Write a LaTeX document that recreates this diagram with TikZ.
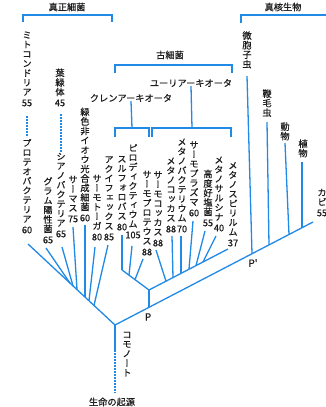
\documentclass[tikz,border=0pt]{standalone}
\usepackage{fontspec}
\newfontfamily\jp[FakeBold=0.6]{Noto Sans CJK JP}
\newfontfamily\jpv[RawFeature=+vert,FakeBold=0.6]{Noto Sans CJK JP}
\definecolor{treeblue}{RGB}{33,137,230}
\definecolor{txt}{RGB}{28,28,28}
\makeatletter
\newcommand\tate[1]{\vbox{\offinterlineskip\@tfor\tate@c:=#1\do{\hbox to 9.5pt{\hss\vrule width0pt height 7.9pt depth 1.6pt\tate@c\hss}}}}
\makeatother
\tikzset{
 bl/.style={draw=treeblue, line width=1.3pt},
 dsh/.style={draw=treeblue, line width=1.2pt, dash pattern=on 1.6pt off 1.4pt},
 num/.style={font=\jp\fontsize{9.2}{10}\selectfont, text=txt, inner sep=0pt},
 vt/.style={font=\jpv\fontsize{9.2}{9.5}\selectfont, text=txt, inner sep=0pt},
 hl/.style={font=\jp\fontsize{9.2}{10}\selectfont, text=txt, inner sep=0pt},
}
\newcommand\leaf[5]{\node[num] (n#1) at (#2,#3) {#5}; \node[vt,anchor=south] (t#1) at ([yshift=2.2pt]n#1.north) {\tate{#4}};}
\begin{document}
\begin{tikzpicture}[x=1pt,y=-1pt]
\useasboundingbox[fill=white] (0,0) rectangle (325,407);
% ---- group labels and brackets
\node[hl] (gbac) at (67,7) {真正細菌};
\node[hl] (geuk) at (283,7) {真核生物};
\node[hl] (garc) at (170,55) {古細菌};
\node[hl] (gcren) at (131,98) {クレンアーキオータ};
\node[hl] (geury) at (191,83) {ユーリアーキオータ};
\draw[bl] (23,22) -- (23,15) -- (112,15) -- (112,22);
\draw[bl] (241,23) -- (241,15) -- (326,15);
\draw[bl] (115,73) -- (115,65) -- (232,65) -- (232,73);
\draw[bl] (115,137) -- (115,128) -- (149,128) -- (149,137);
\draw[bl] (152,137) -- (152,128) -- (231,128) -- (231,137);
\coordinate (crb) at (132,128);
\coordinate (eub) at (192,128);
\draw[bl] (gcren.south) ++(0,-1) coordinate (crt) (crt) -- (crb);
\draw[bl] (geury.south) ++(0,-1) coordinate (eut) (eut) -- (eub);
% ---- leaves
\leaf{mito}{27}{103}{ミトコンドリア}{55}
\leaf{chlo}{60}{103}{葉緑体}{45}
\leaf{prot}{27}{230}{プロテオバクテリア}{60}
\leaf{gram}{48}{240}{グラム陽性菌}{65}
\leaf{cyan}{61}{234}{シアノバクテリア}{65}
\leaf{ther}{73}{219}{サーマス}{75}
\leaf{gree}{85}{218}{緑色非イオウ光合成細菌}{60}
\leaf{toga}{97}{237}{サーモトーガ}{80}
\leaf{aqui}{109}{237}{アクイフェックス}{85}
\leaf{sulf}{122}{227}{スルフォロバス}{80}
\leaf{pyro}{133}{235}{ピロディクティウム}{105}
\leaf{tpro}{147}{252}{サーモプロテウス}{88}
\leaf{tcoc}{158}{243}{サーモコッカス}{88}
\leaf{mcoc}{171}{229}{メタノコッカス}{88}
\leaf{mbac}{182}{229}{メタノバクテリウム}{70}
\leaf{tpla}{194}{213}{サーモプラズマ}{60}
\leaf{halo}{208}{223}{高度好塩菌}{55}
\leaf{msar}{219}{228}{メタノサルシナ}{40}
\leaf{mspi}{233}{243}{メタノスピリルム}{37}
\leaf{kabi}{322}{213}{カビ}{55}
\node[vt,anchor=north] (tmic) at (247,31) {\tate{微胞子虫}};
\node[vt,anchor=north] (tfla) at (267,89) {\tate{鞭毛虫}};
\node[vt,anchor=north] (tani) at (285,122) {\tate{動物}};
\node[vt,anchor=north] (tpla2) at (303,139) {\tate{植物}};
\node[vt,anchor=north] (tcom) at (127,330) {\tate{コモノート}};
\node[hl] (orig) at (112,402) {生命の起源};
\node[num,font=\jp\fontsize{10}{10}\selectfont] (lp) at (148,317) {P};
\node[num,font=\jp\fontsize{10}{10}\selectfont] (lpp) at (253,263) {P'};
% ---- main skeleton
\coordinate (R) at (115,325);
\coordinate (B0) at (28,244);
\coordinate (E) at (313,222);
\coordinate (Pb) at (149,307.3);
\coordinate (Pt) at (149,290);
\coordinate (C0) at (122,270);
\coordinate (U0) at (228,249);
\coordinate (Rs) at (115,350);
\coordinate (Rd) at (115,393);
\draw[bl] (B0) -- (R) -- (E);
\draw[bl] (R) -- (Rs);
\draw[dsh] (Rs) -- (Rd);
\draw[bl] (Pb) -- (Pt);
\draw[bl] (C0) -- (Pt) -- (U0);
% dashed endosymbiosis links
\draw[dsh] (27,116) -- (27,137);
\draw[dsh] (61,114) -- (61,152);
% bacteria branches
\draw[bl] (46,248) -- (70,283.1);
\draw[bl] (62,247) -- (73,285.9);
\draw[bl] (73,227) -- (77,289.6);
\draw[bl] (85,225) -- (85,297.1);
\draw[bl] (95,247) -- (89,300.8);
\draw[bl] (108,245) -- (94,305.4);
% crenarchaeota
\draw[bl] (122,235) -- (C0);
\draw[bl] (132,246) -- (129,275.2);
\draw[bl] (143,259) -- (135,279.6);
% euryarchaeota
\draw[bl] (156,250) -- (166,281.2);
\draw[bl] (172,236) -- (173,277.5);
\draw[bl] (181,236) -- (181,273.4);
\draw[bl] (193,221) -- (189,269.2);
\draw[bl] (205,231) -- (196,265.6);
\draw[bl] (216,236) -- (203,262.0);
% eukaryotes
\draw[bl] (247,76) -- (252,253.8);
\draw[bl] (267,122) -- (269,244.9);
\draw[bl] (285,143) -- (289,234.5);
\draw[bl] (302,162) -- (302,227.8);
\end{tikzpicture}
\end{document}
